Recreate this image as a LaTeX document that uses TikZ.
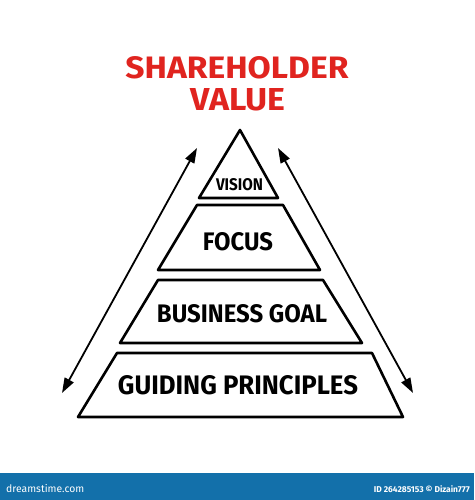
\documentclass[tikz,border=0pt]{standalone}
\usepackage{fontspec}
\setmainfont{Fira Sans}
\usetikzlibrary{arrows.meta}
\definecolor{titlered}{HTML}{E0241F}
\definecolor{barblue}{HTML}{1370AA}
\begin{document}
\begin{tikzpicture}[x=1pt,y=-1pt,
  tier/.style={draw=black,line width=2.6pt,line join=round,fill=white},
  lbl/.style={inner sep=0pt,font=\bfseries},
  ttl/.style={inner sep=0pt,font=\bfseries,text=titlered},
  dbl/.style={line width=1.8pt,{Triangle[length=15pt,width=10pt]}-{Triangle[length=15pt,width=10pt]}},
  wm/.style={inner sep=0pt,text=white}]
\fill[white] (0,0) rectangle (474,500);
\useasboundingbox (0,0) rectangle (474,500);
% title
\node[ttl] (t1) at (237,68) {\resizebox{223pt}{22pt}{SHAREHOLDER}};
\node[ttl] (t2) at (238,100) {\resizebox{95pt}{22pt}{VALUE}};
% tiers
\draw[tier] (240,130) -- (278,198) -- (199,198) -- cycle;
\draw[tier] (197,205) -- (283,205) -- (320,270) -- (158,270) -- cycle;
\draw[tier] (158,280) -- (323,280) -- (362,343) -- (120,343) -- cycle;
\draw[tier] (117,353) -- (372,353) -- (403,417) -- (78,417) -- cycle;
% labels
\node[lbl] (vision) at (239.5,185) {\resizebox{47pt}{12pt}{VISION}};
\node[lbl] (focus) at (238,242) {\resizebox{70pt}{18pt}{FOCUS}};
\node[lbl] (goal) at (242,314) {\resizebox{170pt}{18pt}{BUSINESS GOAL}};
\node[lbl] (guide) at (238,385) {\resizebox{240pt}{19pt}{GUIDING PRINCIPLES}};
% arrows
\coordinate (la) at (197,148);
\coordinate (lb) at (62,393);
\coordinate (ra) at (278,148);
\coordinate (rb) at (413,393);
\draw[dbl] (lb) -- (la);
\draw[dbl] (ra) -- (rb);
% watermark bar
\fill[barblue] (0,473) rectangle (474,500);
\node[wm,anchor=west] (dt) at (6,489) {\resizebox{78pt}{!}{dreamstime.com}};
\node[wm,anchor=east,font=\bfseries] (id) at (470,489) {\resizebox{96pt}{!}{ID 264285153 © Dizain777}};
\end{tikzpicture}
\end{document}
